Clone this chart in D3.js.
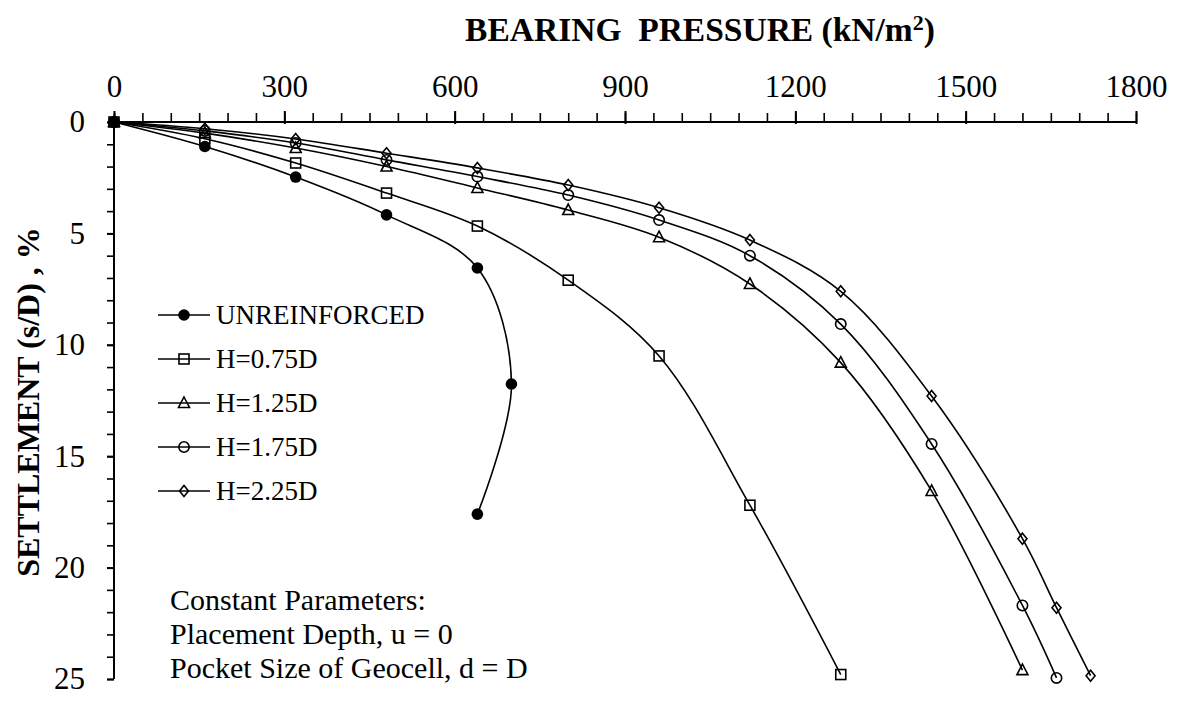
<!DOCTYPE html>
<html>
<head>
<meta charset="utf-8">
<script src="https://cdn.jsdelivr.net/npm/d3@7"></script>
<style>
  html, body { margin: 0; padding: 0; background: #fff; }
  svg { display: block; }
  text { font-family: "Liberation Serif", "Times New Roman", serif; fill: #000; }
</style>
</head>
<body>
<svg id="chart" width="1180" height="702"></svg>
<script>
// ---------- data ----------
const seriesNames = ["UNREINFORCED", "H=0.75D", "H=1.25D", "H=1.75D", "H=2.25D"];
const seriesMarkers = ["filledCircle", "square", "triangle", "circle", "diamond"];

const unreinforcedX = [0, 160, 320, 480, 640, 700, 640];
const unreinforcedY = [0, 1.1, 2.47, 4.17, 6.55, 11.76, 17.6];

const h075X = [0, 160, 320, 480, 640, 800, 960, 1120, 1280];
const h075Y = [0, 0.75, 1.84, 3.19, 4.67, 7.1, 10.5, 17.2, 24.8];

const h125X = [0, 160, 320, 480, 640, 800, 960, 1120, 1280, 1440, 1600];
const h125Y = [0, 0.5, 1.17, 2.0, 2.96, 3.95, 5.17, 7.27, 10.8, 16.56, 24.6];

const h175X = [0, 160, 320, 480, 640, 800, 960, 1120, 1280, 1440, 1600, 1660];
const h175Y = [0, 0.4, 0.94, 1.7, 2.45, 3.28, 4.4, 6.0, 9.07, 14.45, 21.7, 24.95];

const h225X = [0, 160, 320, 480, 640, 800, 960, 1120, 1280, 1440, 1600, 1660, 1720];
const h225Y = [0, 0.3, 0.76, 1.4, 2.06, 2.83, 3.85, 5.3, 7.6, 12.3, 18.7, 21.8, 24.85];

const xMajorTicks = [0, 300, 600, 900, 1200, 1500, 1800];
const yMajorTicks = [0, 5, 10, 15, 20, 25];

const xTitle = "BEARING  PRESSURE";
const yTitle = "SETTLEMENT (s/D) , %";
const noteLines = ["Constant Parameters:", "Placement Depth, u = 0", "Pocket Size of Geocell, d = D"];

// ---------- assemble ----------
const seriesX = [unreinforcedX, h075X, h125X, h175X, h225X];
const seriesY = [unreinforcedY, h075Y, h125Y, h175Y, h225Y];
const series = seriesNames.map((name, i) => ({
  name, marker: seriesMarkers[i],
  points: seriesX[i].map((x, j) => ({ x, y: seriesY[i][j] }))
}));

const svg = d3.select("#chart");
const x = d3.scaleLinear().domain([0, 1800]).range([114, 1136]);
const y = d3.scaleLinear().domain([0, 25]).range([122, 679]);

// ---------- axes ----------
const xMinor = d3.range(0, 1801, 50);
const gxMinor = svg.append("g").attr("transform", `translate(0,${y(0)})`)
  .call(d3.axisTop(x).tickValues(xMinor).tickSize(9).tickFormat(""));
gxMinor.select(".domain").remove();
gxMinor.selectAll("line").attr("stroke", "#000").attr("stroke-width", 1.6);

const gx = svg.append("g").attr("transform", `translate(0,${y(0)})`)
  .call(d3.axisTop(x).tickValues(xMajorTicks).tickSize(11).tickSizeOuter(0).tickPadding(14).tickFormat(d3.format("d")));
gx.select(".domain").attr("stroke", "#000").attr("stroke-width", 2).attr("d", `M${x(0)},0H${x(1800)}`);
gx.selectAll("line").attr("stroke", "#000").attr("stroke-width", 2).attr("y2", -11).attr("y1", 2);
gx.selectAll("text").attr("font-size", 31).attr("font-family", "Liberation Serif");

const yMinor = d3.range(0, 25.01, 1);
const gyMinor = svg.append("g").attr("transform", `translate(${x(0)},0)`)
  .call(d3.axisLeft(y).tickValues(yMinor).tickSize(7).tickFormat(""));
gyMinor.select(".domain").remove();
gyMinor.selectAll("line").attr("stroke", "#000").attr("stroke-width", 1.6);

const gy = svg.append("g").attr("transform", `translate(${x(0)},0)`)
  .call(d3.axisLeft(y).tickValues(yMajorTicks).tickSize(7).tickSizeOuter(0).tickPadding(22).tickFormat(d3.format("d")));
gy.select(".domain").attr("stroke", "#000").attr("stroke-width", 2).attr("d", `M0,${y(0)}V${y(25)}`);
gy.selectAll("line").attr("stroke", "#000").attr("stroke-width", 2);
gy.selectAll("text").attr("font-size", 31).attr("font-family", "Liberation Serif");

// ---------- titles ----------
const tTitle = svg.append("text").attr("x", 700).attr("y", 41).attr("text-anchor", "middle")
  .attr("font-size", 33.5).attr("font-weight", "bold").style("white-space", "pre");
tTitle.append("tspan").text(xTitle + " (kN/m");
tTitle.append("tspan").attr("font-size", 22).attr("dy", -11).text("2");
tTitle.append("tspan").attr("dy", 11).text(")");

svg.append("text")
  .attr("transform", `translate(39,402) rotate(-90)`)
  .attr("text-anchor", "middle").attr("font-size", 32).attr("font-weight", "bold")
  .text(yTitle);

// ---------- markers ----------
function drawMarker(g, type, cx, cy) {
  const sw = 1.6;
  if (type === "filledCircle") {
    g.append("circle").attr("cx", cx).attr("cy", cy).attr("r", 5.8).attr("fill", "#000");
  } else if (type === "square") {
    g.append("rect").attr("x", cx - 5).attr("y", cy - 5).attr("width", 10).attr("height", 10)
      .attr("fill", "none").attr("stroke", "#000").attr("stroke-width", sw);
  } else if (type === "triangle") {
    g.append("path").attr("d", `M${cx},${cy - 6}L${cx + 5.5},${cy + 4.5}L${cx - 5.5},${cy + 4.5}Z`)
      .attr("fill", "none").attr("stroke", "#000").attr("stroke-width", sw);
  } else if (type === "circle") {
    g.append("circle").attr("cx", cx).attr("cy", cy).attr("r", 5.2)
      .attr("fill", "none").attr("stroke", "#000").attr("stroke-width", sw);
  } else if (type === "diamond") {
    g.append("path").attr("d", `M${cx},${cy - 5.5}L${cx + 4.5},${cy}L${cx},${cy + 5.5}L${cx - 4.5},${cy}Z`)
      .attr("fill", "none").attr("stroke", "#000").attr("stroke-width", sw);
  }
}

// ---------- series ----------
const line = d3.line().x(d => x(d.x)).y(d => y(d.y)).curve(d3.curveCatmullRom.alpha(0.5));
series.forEach(s => {
  const g = svg.append("g");
  g.append("path").attr("d", line(s.points)).attr("fill", "none")
    .attr("stroke", "#000").attr("stroke-width", 1.6);
  s.points.forEach(p => drawMarker(g, s.marker, x(p.x), y(p.y)));
});

// ---------- legend ----------
const legendTop = 315, legendStep = 44;
series.forEach((s, i) => {
  const ly = legendTop + i * legendStep;
  const g = svg.append("g");
  g.append("line").attr("x1", 158).attr("x2", 210).attr("y1", ly).attr("y2", ly)
    .attr("stroke", "#000").attr("stroke-width", 1.6);
  drawMarker(g, s.marker, 184, ly);
  g.append("text").attr("x", 216).attr("y", ly + 9).attr("font-size", 27).text(s.name);
});

// ---------- note ----------
noteLines.forEach((t, i) => {
  svg.append("text").attr("x", 170).attr("y", 610 + i * 34).attr("font-size", 30).text(t);
});
</script>
</body>
</html>
